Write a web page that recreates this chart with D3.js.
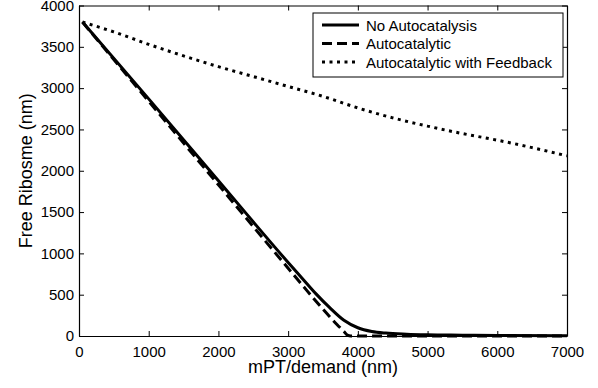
<!DOCTYPE html>
<html>
<head>
<meta charset="utf-8">
<script src="https://cdn.jsdelivr.net/npm/d3@7"></script>
<style>
  body { margin: 0; background: #fff; }
  text { font-family: "Liberation Sans", Arial, sans-serif; fill: #000; }
</style>
</head>
<body>
<svg id="chart"></svg>
<script>
// Data.

const X_NO_AUTO = [50, 1000, 2000, 3000, 3200, 3400, 3600, 3800, 4000, 4200, 4400, 4700, 5000, 5500, 6000, 7000];
const Y_NO_AUTO = [3800, 2870, 1880, 890, 700, 510, 340, 190, 100, 55, 35, 22, 15, 10, 5, 3];

const X_AUTO = [50, 1000, 2000, 3000, 3200, 3400, 3600, 3700, 3800, 3850, 3900, 7000];
const Y_AUTO = [3800, 2840, 1830, 820, 620, 420, 230, 140, 55, 10, 0, 0];

const X_FEEDBACK = [50, 500, 1000, 1500, 2000, 2500, 3000, 3500, 4000, 4500, 5000, 5500, 6000, 6500, 7000];
const Y_FEEDBACK = [3800, 3680, 3530, 3390, 3260, 3140, 3020, 2900, 2760, 2640, 2540, 2450, 2370, 2280, 2180];

const SERIES_NAMES = ["No Autocatalysis", "Autocatalytic", "Autocatalytic with Feedback"];

const X_TICKS = [0, 1000, 2000, 3000, 4000, 5000, 6000, 7000];
const Y_TICKS = [0, 500, 1000, 1500, 2000, 2500, 3000, 3500, 4000];

// Layout.

const WIDTH = 598;
const HEIGHT = 388;
const MARGIN = { top: 5.5, bottom: 52, left: 79, right: 31 };

const width = WIDTH - MARGIN.left - MARGIN.right;
const height = HEIGHT - MARGIN.top - MARGIN.bottom;

const svg = d3.select("svg#chart")
                .attr("width", WIDTH)
                .attr("height", HEIGHT);

const plot = svg.append("g")
                .attr("transform", `translate(${MARGIN.left}, ${MARGIN.top})`);

const escalaX = d3.scaleLinear().domain([0, 7000]).range([0, width]);
const escalaY = d3.scaleLinear().domain([0, 4000]).range([height, 0]);

const formato = d3.format("d");

// Axes, matlab style: ticks pointing inward, on all four sides.

const axisStyle = (g) => {
    g.select(".domain").attr("stroke", "#000").attr("stroke-width", 1.2);
    g.selectAll(".tick line").attr("stroke", "#000").attr("stroke-width", 1);
    g.selectAll(".tick text").style("font-size", "15px");
};

plot.append("g")
    .attr("transform", `translate(0, ${height})`)
    .call(d3.axisBottom(escalaX).tickValues(X_TICKS).tickFormat(formato)
            .tickSizeInner(-5).tickSizeOuter(0).tickPadding(10))
    .call(axisStyle);

plot.append("g")
    .call(d3.axisLeft(escalaY).tickValues(Y_TICKS).tickFormat(formato)
            .tickSizeInner(-5).tickSizeOuter(0).tickPadding(5))
    .call(axisStyle);

plot.append("g")
    .call(d3.axisTop(escalaX).tickValues(X_TICKS).tickSizeInner(-5).tickSizeOuter(0).tickFormat(""))
    .call(axisStyle);

plot.append("g")
    .attr("transform", `translate(${width}, 0)`)
    .call(d3.axisRight(escalaY).tickValues(Y_TICKS).tickSizeInner(-5).tickSizeOuter(0).tickFormat(""))
    .call(axisStyle);

// Lines.

const linea = d3.line()
                .x(d => escalaX(d[0]))
                .y(d => escalaY(d[1]))
                .curve(d3.curveMonotoneX);

const series = [
    { name: SERIES_NAMES[0], pts: d3.zip(X_NO_AUTO, Y_NO_AUTO), dash: null },
    { name: SERIES_NAMES[1], pts: d3.zip(X_AUTO, Y_AUTO), dash: "10,5" },
    { name: SERIES_NAMES[2], pts: d3.zip(X_FEEDBACK, Y_FEEDBACK), dash: "3,4.5" }
];

plot.selectAll("path.serie")
    .data(series)
    .join("path")
        .attr("class", "serie")
        .attr("d", d => linea(d.pts))
        .attr("fill", "none")
        .attr("stroke", "#000")
        .attr("stroke-width", 3)
        .attr("stroke-dasharray", d => d.dash);

// Axis labels.

svg.append("text")
    .attr("x", MARGIN.left + width / 2)
    .attr("y", 373)
    .attr("text-anchor", "middle")
    .style("font-size", "18px")
    .text("mPT/demand (nm)");

svg.append("text")
    .attr("transform", `translate(32, ${MARGIN.top + height / 2}) rotate(-90)`)
    .attr("text-anchor", "middle")
    .style("font-size", "18px")
    .text("Free Ribosme (nm)");

// Legend.

const legend = svg.append("g").attr("transform", "translate(313, 13)");

legend.append("rect")
    .attr("width", 250)
    .attr("height", 64)
    .attr("fill", "#fff")
    .attr("stroke", "#000")
    .attr("stroke-width", 1);

const filas = legend.selectAll("g.fila")
    .data(series)
    .join("g")
        .attr("class", "fila")
        .attr("transform", (d, i) => `translate(0, ${12 + i * 18.5})`);

filas.append("line")
    .attr("x1", 9)
    .attr("x2", 46)
    .attr("stroke", "#000")
    .attr("stroke-width", 3)
    .attr("stroke-dasharray", d => d.dash);

filas.append("text")
    .attr("x", 53)
    .attr("y", 5.5)
    .style("font-size", "15px")
    .text(d => d.name);
</script>
</body>
</html>
